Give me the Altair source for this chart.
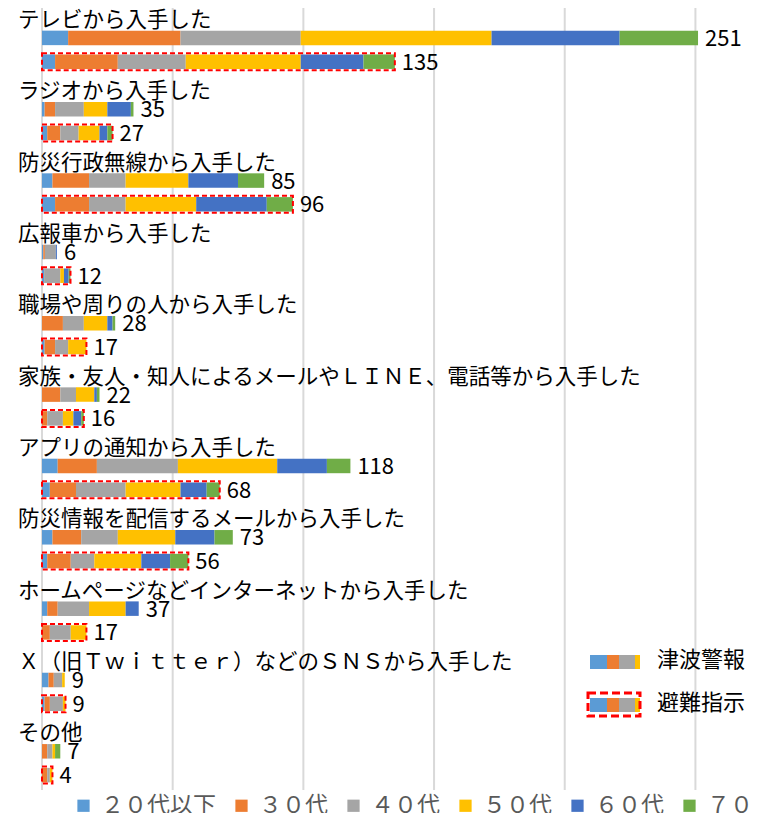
import altair as alt
import pandas as pd

categories = [
    "テレビから入手した",
    "ラジオから入手した",
    "防災行政無線から入手した",
    "広報車から入手した",
    "職場や周りの人から入手した",
    "家族・友人・知人によるメールやＬＩＮＥ、電話等から入手した",
    "アプリの通知から入手した",
    "防災情報を配信するメールから入手した",
    "ホームページなどインターネットから入手した",
    "Ｘ（旧Ｔｗｉｔｔｅｒ）などのＳＮＳから入手した",
    "その他",
]
ages = ["２０代以下", "３０代", "４０代", "５０代", "６０代", "７０代"]
age_colors = ["#5B9BD5", "#ED7D31", "#A5A5A5", "#FFC000", "#4472C4", "#70AD47"]

# 津波警報 (per category, per age group)
tsunami_values = [
    [10, 43, 46, 73, 49, 30],
    [1, 4, 11, 9, 9, 1],
    [4, 14, 14, 24, 19, 10],
    [0.5, 0.6, 4.2, 0, 0.4, 0],
    [0, 8, 8, 9, 2, 1],
    [0, 7, 6, 7, 1, 1],
    [6, 15, 31, 38, 19, 9],
    [4, 11, 14, 22, 15, 7],
    [2, 4, 12, 14, 5, 0],
    [2.5, 2, 3.2, 1, 0, 0],
    [0, 2, 2, 1, 0, 2],
]
tsunami_totals = [251, 35, 85, 6, 28, 22, 118, 73, 37, 9, 7]

# 避難指示 (per category, per age group)
evac_values = [
    [5, 24, 26, 44, 24, 12],
    [2, 5, 7, 8, 3, 2],
    [5, 13, 14, 27, 27, 10],
    [0.8, 0, 6.2, 1.4, 1.8, 0.7],
    [1, 4, 5, 7, 0, 0],
    [0, 2, 6, 4, 3, 1],
    [3, 10, 19, 21, 10, 5],
    [2, 9, 9, 18, 11, 7],
    [0, 3, 8, 6, 0, 0],
    [1, 2, 5, 1, 0, 0],
    [0, 2, 1, 1, 0, 0],
]
evac_totals = [135, 27, 96, 12, 17, 16, 68, 56, 17, 9, 4]

grid_values = [0, 50, 100, 150, 200, 250]

FONT = "Noto Sans CJK JP"
W, H = 707, 761

# rows: 津波, 避難, spacer for each category (no spacer after the last)
rows = []
for i, c in enumerate(categories):
    rows += [c + "|津波", c + "|避難"]
    if i < len(categories) - 1:
        rows.append(c + "|gap")

bar_recs, tot_recs, lab_recs, border_recs = [], [], [], []
for i, c in enumerate(categories):
    for kind, vals, tots in (("津波", tsunami_values, tsunami_totals), ("避難", evac_values, evac_totals)):
        row = c + "|" + kind
        for j, a in enumerate(ages):
            bar_recs.append({"row": row, "age": a, "age_idx": j, "value": vals[i][j]})
        end = sum(vals[i])
        tot_recs.append({"row": row, "end": end, "total": tots[i]})
        if kind == "避難":
            border_recs.append({"row": row, "start": 0, "end": end})
    lab_recs.append({"row": c + "|津波", "zero": 0, "label": c})

bars_df = pd.DataFrame(bar_recs)
tot_df = pd.DataFrame(tot_recs)
lab_df = pd.DataFrame(lab_recs)
border_df = pd.DataFrame(border_recs)
grid_df = pd.DataFrame({"g": grid_values})

xscale = alt.Scale(domain=[0, 270.5], nice=False, zero=True)
yenc = alt.Y("row:N", scale=alt.Scale(domain=rows, paddingInner=0.39, paddingOuter=0.195), axis=None)

grid = alt.Chart(grid_df).mark_rule(color="#D9D9D9", strokeWidth=2).encode(
    x=alt.X("g:Q", scale=xscale, axis=None),
    y=alt.value(-18),
    y2=alt.value(H + 3),
)

bars = alt.Chart(bars_df).mark_bar().encode(
    x=alt.X("value:Q", stack="zero", scale=xscale, axis=None),
    y=yenc,
    color=alt.Color(
        "age:N",
        scale=alt.Scale(domain=ages, range=age_colors),
        legend=alt.Legend(
            orient="none", legendX=30, legendY=768, direction="horizontal", title=None,
            symbolType="square", symbolSize=150, symbolStrokeWidth=0, symbolOpacity=1,
            labelFontSize=23, labelFont=FONT, labelColor="#595959", columnPadding=14,
            labelOffset=6, padding=0, labelLimit=400,
        ),
    ),
    order=alt.Order("age_idx:Q"),
)

border = alt.Chart(border_df).mark_bar(
    filled=False, stroke="#FF0000", strokeWidth=2, strokeDash=[5, 3], height=17
).encode(
    x=alt.X("start:Q", scale=xscale, axis=None),
    x2="end:Q",
    y=yenc,
)

totals = alt.Chart(tot_df).mark_text(
    align="left", baseline="middle", dx=7, dy=1, fontSize=22, font=FONT, color="#000000"
).encode(
    x=alt.X("end:Q", scale=xscale, axis=None),
    y=yenc,
    text="total:Q",
)

labels = alt.Chart(lab_df).mark_text(
    align="left", baseline="middle", dx=-24, dy=-17, fontSize=21.5, font=FONT, color="#000000"
).encode(
    x=alt.X("zero:Q", scale=xscale, axis=None),
    y=yenc,
    text="label:N",
)

# series legend (津波警報 / 避難指示), right side
leg_seg = pd.DataFrame({
    "age": ages[:4],
    "x0": [548, 565, 577, 593],
    "x1": [565, 577, 593, 598],
})
leg1 = alt.Chart(leg_seg).mark_rect().encode(
    x=alt.X("x0:Q", scale=None), x2="x1:Q",
    y=alt.value(629), y2=alt.value(643),
    color=alt.Color("age:N", scale=alt.Scale(domain=ages, range=age_colors), legend=None),
)
leg2 = alt.Chart(leg_seg).mark_rect().encode(
    x=alt.X("x0:Q", scale=None), x2="x1:Q",
    y=alt.value(672), y2=alt.value(686),
    color=alt.Color("age:N", scale=alt.Scale(domain=ages, range=age_colors), legend=None),
)
leg2b = alt.Chart(pd.DataFrame({"a": [0]})).mark_rect(
    filled=False, stroke="#FF0000", strokeWidth=3, strokeDash=[8, 4]
).encode(x=alt.value(546), x2=alt.value(598), y=alt.value(667), y2=alt.value(690))
leg_txt = alt.Chart(pd.DataFrame({"t": ["津波警報 n", "避難指示 n"], "yy": [634, 677]})).mark_text(
    align="left", baseline="middle", fontSize=22, font=FONT, color="#000000"
).encode(x=alt.value(615), y=alt.Y("yy:Q", scale=None), text="t:N")

chart = alt.layer(grid, bars, border, totals, labels, leg1, leg2, leg2b, leg_txt).resolve_scale(
    color="independent"
).properties(
    width=W, height=H,
    autosize=alt.AutoSizeParams(type="none"),
    padding={"left": 34, "top": 18, "right": 0, "bottom": 26},
).configure_view(stroke=None)

chart.save("out.html", embed_options={"renderer": "svg", "actions": False})
